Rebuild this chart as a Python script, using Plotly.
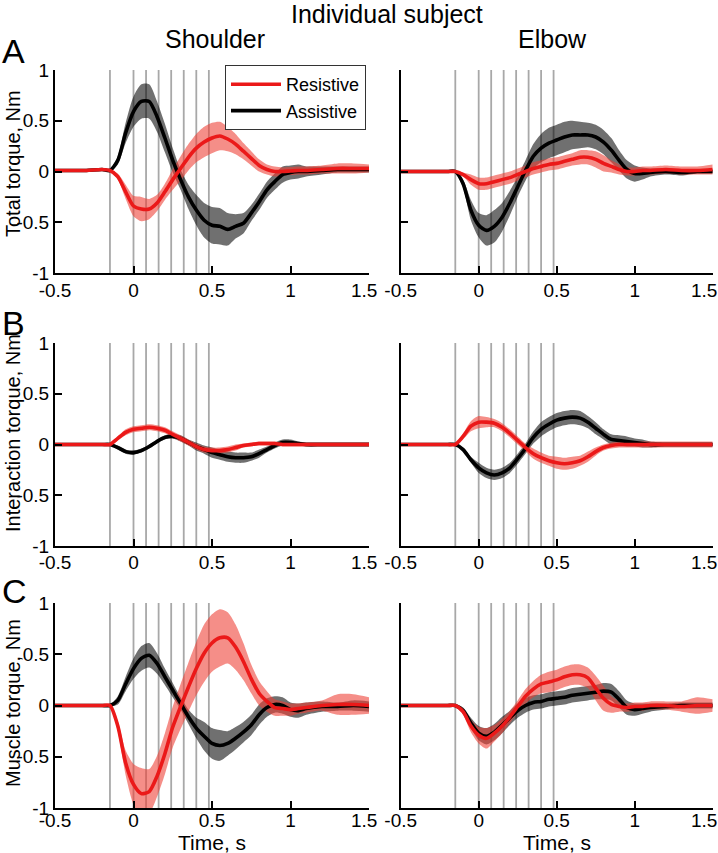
import numpy as np
import plotly.graph_objects as go

W, H = 718, 853

# ---------------- data ----------------
time_s = [-0.5, -0.4, -0.3, -0.2, -0.15, -0.1, -0.05, 0.0, 0.05, 0.1, 0.15, 0.2, 0.25, 0.3,
          0.35, 0.4, 0.45, 0.5, 0.55, 0.6, 0.65, 0.7, 0.75, 0.8, 0.85, 0.9, 0.95, 1.0,
          1.05, 1.1, 1.2, 1.3, 1.4, 1.5]

event_times = [-0.15, 0.0, 0.08, 0.16, 0.24, 0.32, 0.40, 0.48]

x_ticks = [-0.5, 0, 0.5, 1, 1.5]
x_tick_labels = ["-0.5", "0", "0.5", "1", ""]
x_end_label = "1.5"
y_ticks = [-1, -0.5, 0, 0.5, 1]
y_tick_labels = ["-1", "-0.5", "0", "0.5", "1"]

# Row A: total torque
total_sh_assist = [0.01, 0.01, 0.01, 0.02, 0.01, 0.11, 0.38, 0.59, 0.69, 0.69, 0.54, 0.33, 0.11, -0.08,
                   -0.25, -0.38, -0.48, -0.53, -0.54, -0.57, -0.54, -0.51, -0.41, -0.30, -0.18, -0.10,
                   -0.03, -0.01, 0.0, 0.0, 0.01, 0.02, 0.02, 0.02]
total_sh_assist_sd = [0.01, 0.01, 0.01, 0.01, 0.01, 0.04, 0.10, 0.15, 0.17, 0.17, 0.15, 0.14, 0.12, 0.10,
                      0.12, 0.15, 0.17, 0.18, 0.18, 0.16, 0.12, 0.10, 0.08, 0.08, 0.08, 0.08, 0.08,
                      0.07, 0.07, 0.05, 0.04, 0.03, 0.03, 0.03]
total_sh_resist = [0.01, 0.01, 0.01, 0.02, 0.01, -0.05, -0.20, -0.34, -0.37, -0.37, -0.31, -0.20, -0.08,
                   0.03, 0.14, 0.23, 0.29, 0.33, 0.35, 0.32, 0.27, 0.20, 0.13, 0.06, 0.02, 0.0, 0.0,
                   0.005, 0.01, 0.01, 0.02, 0.03, 0.03, 0.03]
total_sh_resist_sd = [0.01, 0.01, 0.01, 0.01, 0.01, 0.03, 0.07, 0.10, 0.12, 0.10, 0.08, 0.08, 0.10, 0.12,
                      0.13, 0.14, 0.15, 0.15, 0.14, 0.12, 0.10, 0.08, 0.07, 0.06, 0.05, 0.05, 0.04,
                      0.04, 0.04, 0.04, 0.04, 0.05, 0.05, 0.04]
total_el_assist = [0.0, 0.0, 0.0, 0.0, 0.0, -0.12, -0.38, -0.53, -0.58, -0.54, -0.45, -0.31, -0.15, 0.01,
                   0.15, 0.23, 0.28, 0.31, 0.34, 0.36, 0.36, 0.36, 0.34, 0.29, 0.21, 0.11, 0.02, -0.02,
                   -0.02, -0.01, 0.0, -0.01, 0.0, 0.0]
total_el_assist_sd = [0.01, 0.01, 0.01, 0.01, 0.01, 0.04, 0.10, 0.12, 0.15, 0.16, 0.14, 0.12, 0.10, 0.10,
                      0.12, 0.14, 0.15, 0.15, 0.15, 0.14, 0.13, 0.12, 0.12, 0.12, 0.12, 0.10, 0.09,
                      0.08, 0.06, 0.04, 0.03, 0.03, 0.02, 0.02]
total_el_resist = [0.0, 0.0, 0.0, 0.0, 0.0, -0.03, -0.08, -0.12, -0.12, -0.10, -0.08, -0.06, -0.03, 0.0,
                   0.03, 0.05, 0.07, 0.08, 0.10, 0.12, 0.14, 0.14, 0.12, 0.08, 0.05, 0.02, 0.0, 0.0,
                   0.01, 0.01, 0.02, 0.01, 0.01, 0.02]
total_el_resist_sd = [0.01, 0.01, 0.01, 0.01, 0.01, 0.02, 0.05, 0.06, 0.06, 0.06, 0.06, 0.06, 0.06, 0.06,
                      0.06, 0.06, 0.06, 0.06, 0.06, 0.06, 0.07, 0.07, 0.08, 0.08, 0.06, 0.05, 0.04,
                      0.04, 0.04, 0.04, 0.04, 0.04, 0.04, 0.05]

# Row B: interaction torque
inter_sh_assist = [0.0, 0.0, 0.0, 0.0, 0.0, -0.03, -0.07, -0.08, -0.06, -0.02, 0.03, 0.07, 0.08, 0.06,
                   0.02, -0.02, -0.05, -0.08, -0.10, -0.12, -0.13, -0.13, -0.12, -0.09, -0.05, -0.01,
                   0.02, 0.02, 0.01, 0.0, 0.0, 0.0, 0.0, 0.0]
inter_sh_assist_sd = [0.01, 0.01, 0.01, 0.01, 0.01, 0.02, 0.02, 0.02, 0.02, 0.02, 0.02, 0.02, 0.02, 0.03,
                      0.03, 0.04, 0.04, 0.05, 0.05, 0.05, 0.05, 0.05, 0.04, 0.04, 0.03, 0.03, 0.03,
                      0.03, 0.02, 0.02, 0.02, 0.02, 0.02, 0.02]
inter_sh_resist = [0.0, 0.0, 0.0, 0.0, 0.0, 0.06, 0.12, 0.15, 0.16, 0.17, 0.16, 0.14, 0.10, 0.06, 0.02,
                   -0.02, -0.05, -0.06, -0.06, -0.05, -0.03, -0.01, 0.0, 0.01, 0.01, 0.01, 0.0, 0.0,
                   0.0, 0.0, 0.0, 0.0, 0.0, 0.0]
inter_sh_resist_sd = [0.01, 0.01, 0.01, 0.01, 0.01, 0.02, 0.03, 0.03, 0.03, 0.03, 0.03, 0.03, 0.03, 0.03,
                      0.03, 0.03, 0.03, 0.03, 0.03, 0.03, 0.03, 0.02, 0.02, 0.02, 0.02, 0.02, 0.02,
                      0.02, 0.02, 0.02, 0.02, 0.02, 0.02, 0.02]
inter_el_assist = [0.0, 0.0, 0.0, 0.0, 0.0, -0.05, -0.15, -0.23, -0.28, -0.30, -0.28, -0.23, -0.14, -0.04,
                   0.07, 0.15, 0.20, 0.24, 0.26, 0.27, 0.26, 0.22, 0.16, 0.10, 0.05, 0.04, 0.03, 0.02,
                   0.01, 0.0, 0.0, 0.0, 0.0, 0.0]
inter_el_assist_sd = [0.01, 0.01, 0.01, 0.01, 0.01, 0.02, 0.03, 0.05, 0.05, 0.05, 0.05, 0.05, 0.05, 0.05,
                      0.06, 0.07, 0.07, 0.07, 0.07, 0.07, 0.07, 0.06, 0.06, 0.05, 0.05, 0.05, 0.05,
                      0.04, 0.04, 0.03, 0.02, 0.02, 0.02, 0.02]
inter_el_resist = [0.0, 0.0, 0.0, 0.0, 0.0, 0.08, 0.18, 0.22, 0.22, 0.21, 0.17, 0.11, 0.04, -0.03, -0.09,
                   -0.13, -0.16, -0.18, -0.19, -0.18, -0.16, -0.12, -0.07, -0.03, -0.01, 0.0, 0.0, 0.0,
                   0.0, 0.0, 0.0, 0.0, 0.0, 0.0]
inter_el_resist_sd = [0.01, 0.01, 0.01, 0.01, 0.01, 0.03, 0.05, 0.06, 0.05, 0.04, 0.04, 0.04, 0.04, 0.04,
                      0.05, 0.05, 0.05, 0.06, 0.06, 0.06, 0.05, 0.05, 0.04, 0.03, 0.03, 0.03, 0.03,
                      0.03, 0.03, 0.03, 0.03, 0.03, 0.03, 0.03]

# Row C: muscle torque
muscle_sh_assist = [0.0, 0.0, 0.0, 0.0, 0.0, 0.05, 0.21, 0.36, 0.46, 0.49, 0.41, 0.28, 0.15, 0.02, -0.11,
                    -0.22, -0.30, -0.37, -0.39, -0.37, -0.32, -0.26, -0.19, -0.09, -0.02, 0.01, 0.0,
                    -0.04, -0.05, -0.03, -0.01, -0.01, 0.0, -0.01]
muscle_sh_assist_sd = [0.01, 0.01, 0.01, 0.01, 0.01, 0.04, 0.07, 0.10, 0.12, 0.12, 0.10, 0.08, 0.07, 0.06,
                       0.07, 0.10, 0.14, 0.15, 0.15, 0.12, 0.11, 0.10, 0.10, 0.10, 0.09, 0.08, 0.08,
                       0.07, 0.07, 0.06, 0.05, 0.04, 0.05, 0.05]
muscle_sh_resist = [0.0, 0.0, 0.0, 0.0, 0.0, -0.20, -0.56, -0.77, -0.86, -0.84, -0.69, -0.47, -0.21,
                    -0.01, 0.18, 0.36, 0.51, 0.61, 0.66, 0.66, 0.57, 0.43, 0.26, 0.12, 0.04, -0.02,
                    -0.03, -0.04, -0.03, -0.02, 0.0, 0.01, 0.01, 0.0]
muscle_sh_resist_sd = [0.01, 0.01, 0.01, 0.01, 0.01, 0.05, 0.12, 0.20, 0.25, 0.22, 0.20, 0.20, 0.20, 0.22,
                       0.24, 0.26, 0.28, 0.28, 0.28, 0.25, 0.22, 0.18, 0.14, 0.12, 0.10, 0.08, 0.07,
                       0.06, 0.05, 0.05, 0.05, 0.10, 0.10, 0.08]
muscle_el_assist = [0.0, 0.0, 0.0, 0.0, 0.0, -0.05, -0.17, -0.27, -0.30, -0.26, -0.19, -0.12, -0.05, 0.0,
                    0.03, 0.04, 0.06, 0.07, 0.08, 0.10, 0.11, 0.12, 0.13, 0.14, 0.13, 0.06, -0.02, -0.04,
                    -0.03, -0.02, -0.01, 0.0, 0.0, 0.0]
muscle_el_assist_sd = [0.01, 0.01, 0.01, 0.01, 0.01, 0.03, 0.05, 0.07, 0.08, 0.08, 0.08, 0.07, 0.07, 0.07,
                       0.07, 0.07, 0.07, 0.07, 0.07, 0.07, 0.07, 0.07, 0.07, 0.08, 0.08, 0.08, 0.07,
                       0.06, 0.05, 0.04, 0.03, 0.03, 0.03, 0.03]
muscle_el_resist = [0.0, 0.0, 0.0, 0.0, 0.0, -0.06, -0.20, -0.29, -0.32, -0.27, -0.20, -0.11, -0.01, 0.09,
                    0.16, 0.21, 0.23, 0.25, 0.28, 0.30, 0.30, 0.27, 0.17, 0.07, 0.01, -0.01, -0.02,
                    -0.01, -0.01, 0.0, 0.0, -0.01, 0.0, 0.0]
muscle_el_resist_sd = [0.01, 0.01, 0.01, 0.01, 0.01, 0.03, 0.06, 0.08, 0.10, 0.08, 0.07, 0.06, 0.06, 0.07,
                       0.08, 0.09, 0.10, 0.10, 0.10, 0.10, 0.10, 0.10, 0.12, 0.12, 0.08, 0.05, 0.04,
                       0.04, 0.04, 0.04, 0.04, 0.05, 0.08, 0.06]

panels = [
    (total_sh_assist, total_sh_assist_sd, total_sh_resist, total_sh_resist_sd),
    (total_el_assist, total_el_assist_sd, total_el_resist, total_el_resist_sd),
    (inter_sh_assist, inter_sh_assist_sd, inter_sh_resist, inter_sh_resist_sd),
    (inter_el_assist, inter_el_assist_sd, inter_el_resist, inter_el_resist_sd),
    (muscle_sh_assist, muscle_sh_assist_sd, muscle_sh_resist, muscle_sh_resist_sd),
    (muscle_el_assist, muscle_el_assist_sd, muscle_el_resist, muscle_el_resist_sd),
]

row_titles = ["Total torque, Nm", "Interaction torque, Nm", "Muscle torque, Nm"]
panel_letters = ["A", "B", "C"]
col_titles = ["Shoulder", "Elbow"]
main_title = "Individual subject"
x_title = "Time, s"
series_names = ["Resistive", "Assistive"]

# ---------------- style ----------------
FONT = "Liberation Sans, Arial, Helvetica, sans-serif"
RED = "rgb(235,25,25)"
RED_BAND = "rgba(238,60,50,0.58)"
BLACK = "rgb(0,0,0)"
BLACK_BAND = "rgba(0,0,0,0.56)"
EVENT_COLOR = "rgb(168,168,168)"

# pixel geometry of plot areas
col_px = [(55, 369), (400.7, 712.7)]
row_px = [(70, 273), (343, 546), (603, 808)]
label_gap = [17, 16, 12]       # distance axis -> x tick label centre
end_label_shift = [-5, -9]     # "1.5" label nudged left as in the original


def px_x(p):
    return p / W


def px_y(p):
    return 1 - p / H


fig = go.Figure()
layout = dict(
    width=W, height=H, margin=dict(l=0, r=0, t=0, b=0),
    paper_bgcolor="white", plot_bgcolor="white",
    font=dict(family=FONT, size=19, color="black"),
    showlegend=True,
    legend=dict(x=px_x(225), y=px_y(65), xanchor="left", yanchor="top",
                bordercolor="#333333", borderwidth=1, bgcolor="white",
                font=dict(family=FONT, size=18, color="black"),
                itemwidth=50, tracegroupgap=0, traceorder="normal"),
)

shapes = []
annotations = []

for i, (a_mean, a_sd, r_mean, r_sd) in enumerate(panels):
    row, col = divmod(i, 2)
    idx = i + 1
    xa = "x" if idx == 1 else f"x{idx}"
    ya = "y" if idx == 1 else f"y{idx}"
    t = np.array(time_s)
    a_mean = np.array(a_mean); a_sd = np.array(a_sd)
    r_mean = np.array(r_mean); r_sd = np.array(r_sd)
    common = dict(x=t, xaxis=xa, yaxis=ya, hoverinfo="skip", showlegend=False)
    spl = dict(shape="spline", smoothing=0.7)
    # assistive band
    fig.add_trace(go.Scatter(y=a_mean + a_sd, mode="lines", line=dict(width=0, color=BLACK_BAND, **spl), **common))
    fig.add_trace(go.Scatter(y=a_mean - a_sd, mode="lines", line=dict(width=0, color=BLACK_BAND, **spl),
                             fill="tonexty", fillcolor=BLACK_BAND, **common))
    # resistive band
    fig.add_trace(go.Scatter(y=r_mean + r_sd, mode="lines", line=dict(width=0, color=RED_BAND, **spl), **common))
    fig.add_trace(go.Scatter(y=r_mean - r_sd, mode="lines", line=dict(width=0, color=RED_BAND, **spl),
                             fill="tonexty", fillcolor=RED_BAND, **common))
    # mean lines
    fig.add_trace(go.Scatter(x=t, y=a_mean, xaxis=xa, yaxis=ya, mode="lines", name=series_names[1],
                             line=dict(width=3.6, color=BLACK, **spl), showlegend=(i == 0),
                             legendrank=2))
    fig.add_trace(go.Scatter(x=t, y=r_mean, xaxis=xa, yaxis=ya, mode="lines", name=series_names[0],
                             line=dict(width=3.6, color=RED, **spl), showlegend=(i == 0),
                             legendrank=1))

    xkey = "xaxis" if idx == 1 else f"xaxis{idx}"
    ykey = "yaxis" if idx == 1 else f"yaxis{idx}"
    axis_common = dict(showline=True, linecolor="black", linewidth=2, ticks="inside", ticklen=7,
                       tickwidth=2, tickcolor="black", showgrid=False, zeroline=False,
                       automargin=False, mirror=False,
                       tickfont=dict(family=FONT, size=19, color="black"))
    layout[xkey] = dict(domain=[px_x(col_px[col][0]), px_x(col_px[col][1])], range=[-0.5, 1.5],
                        anchor=ya, tickmode="array", tickvals=x_ticks, ticktext=x_tick_labels,
                        ticklabelstandoff=label_gap[row] - 18, **axis_common)
    layout[ykey] = dict(domain=[px_y(row_px[row][1]), px_y(row_px[row][0])], range=[-1, 1],
                        anchor=xa, tickmode="array", tickvals=y_ticks, ticktext=y_tick_labels,
                        showticklabels=(col == 0), **axis_common)

    for et in event_times:
        shapes.append(dict(type="line", xref=xa, yref=f"{ya} domain", x0=et, x1=et, y0=0, y1=1,
                           line=dict(color=EVENT_COLOR, width=1.8), layer="below"))

    # end-of-axis tick label, nudged inward like the original
    annotations.append(dict(text=x_end_label, xref=xa, x=x_ticks[-1], xshift=end_label_shift[col],
                            yref="paper", y=px_y(row_px[row][1] + label_gap[row]),
                            xanchor="center", yanchor="middle", showarrow=False,
                            font=dict(family=FONT, size=19, color="black")))

# titles / labels
annotations.append(dict(text=main_title, x=px_x(387), y=px_y(14), xref="paper", yref="paper",
                        showarrow=False, xanchor="center", yanchor="middle",
                        font=dict(family=FONT, size=25, color="black")))
for c, ct in enumerate(col_titles):
    cx = [215, 552][c]
    annotations.append(dict(text=ct, x=px_x(cx), y=px_y(39), xref="paper", yref="paper",
                            showarrow=False, xanchor="center", yanchor="middle",
                            font=dict(family=FONT, size=25, color="black")))
letter_y = [51, 323, 591]
title_y = [164, 433, 703]
for r in range(3):
    annotations.append(dict(text=panel_letters[r], x=px_x(0), y=px_y(letter_y[r]), xref="paper",
                            yref="paper", showarrow=False, xanchor="left", yanchor="middle",
                            font=dict(family=FONT, size=34, color="black")))
    annotations.append(dict(text=row_titles[r], x=px_x(13), y=px_y(title_y[r]), xref="paper",
                            yref="paper", showarrow=False, xanchor="center", yanchor="middle",
                            textangle=-90, font=dict(family=FONT, size=20, color="black")))
for c in range(2):
    cx = (col_px[c][0] + col_px[c][1]) / 2
    annotations.append(dict(text=x_title, x=px_x(cx), y=px_y(842), xref="paper", yref="paper",
                            showarrow=False, xanchor="center", yanchor="middle",
                            font=dict(family=FONT, size=21, color="black")))

layout["shapes"] = shapes
layout["annotations"] = annotations
fig.update_layout(**layout)

fig.write_html("out.html", config={"displayModeBar": False},
               post_script="document.body.style.margin='0px';document.body.style.overflow='hidden';")
